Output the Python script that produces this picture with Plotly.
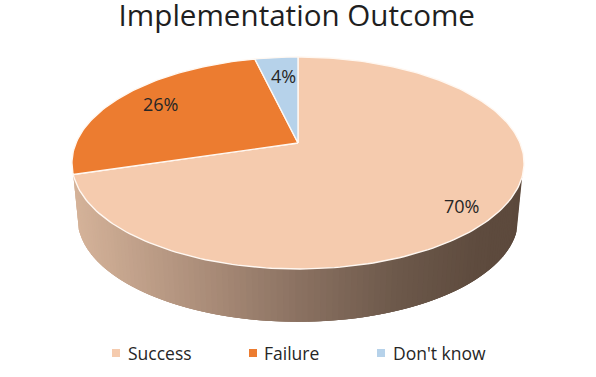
import math
import plotly.graph_objects as go

# --- data ---
categories = ["Success", "Failure", "Don't know"]
values = [70.3, 26.0, 3.7]

# --- style ---
slice_colors = ["#F5CBAE", "#EC7C30", "#B6D2EA"]
side_stops = [(75, (212, 178, 153)), (200, (172, 142, 122)), (300, (138, 113, 97)),
              (400, (108, 88, 74)), (480, (94, 75, 62)), (525, (92, 73, 60))]
FONT = "Open Sans"
TEXT = "#262626"

# --- projection of the tilted disc onto page pixels ---
CX, CY, R, H, K = 298.0, 143.0, 222.0, 102.2, 0.1887
DEPTH_SCALE, BOTTOM_CY = 0.975, 199.0


def top_pt(theta, f=1.0):
    s, c = math.sin(theta), math.cos(theta)
    d = 1 + K * f * c
    return CX + R * f * s / d, CY - H * f * c / d


def bottom_pt(theta):
    s, c = math.sin(theta), math.cos(theta)
    d = 1 + K * c
    return CX + R * DEPTH_SCALE * s / d, BOTTOM_CY - H * DEPTH_SCALE * c / d


def side_color(x):
    for (x0, c0), (x1, c1) in zip(side_stops, side_stops[1:]):
        if x <= x1:
            t = max(0.0, (x - x0) / (x1 - x0))
            return "rgb(%d,%d,%d)" % tuple(round(a + (b - a) * t) for a, b in zip(c0, c1))
    return "rgb(%d,%d,%d)" % side_stops[-1][1]


fig = go.Figure()

# side wall of the first slice: strips overlap their neighbours so no seams show
total = sum(values)
end_first = 2 * math.pi * values[0] / total
start_side = math.radians(108)
N = 110
step = (end_first - start_side) / N
for i in range(N):
    a = start_side + step * i
    angles = [a + step * j for j in range(4) if i + j <= N]
    tops = [top_pt(t) for t in angles]
    bots = [bottom_pt(t) for t in reversed(angles)]
    p = tops + bots + [tops[0]]
    col = side_color((tops[0][0] + tops[1][0]) / 2)
    fig.add_trace(go.Scatter(x=[q[0] for q in p], y=[q[1] for q in p], mode="lines",
                             fill="toself", fillcolor=col, line=dict(width=0),
                             hoverinfo="skip", showlegend=False))

# top face
cum = 0.0
for name, v, col in zip(categories, values, slice_colors):
    a0 = 2 * math.pi * cum / total
    a1 = 2 * math.pi * (cum + v) / total
    cum += v
    n = max(8, int(v * 3))
    pts = [top_pt(a0 + (a1 - a0) * j / n) for j in range(n + 1)]
    xs = [CX] + [q[0] for q in pts] + [CX]
    ys = [CY] + [q[1] for q in pts] + [CY]
    fig.add_trace(go.Scatter(x=xs, y=ys, mode="lines", fill="toself", fillcolor=col,
                             line=dict(color="#FFF8F2", width=1.4),
                             name=name, hoverinfo="skip", showlegend=False))

# legend: square swatches with labels
legend_marker_x = [116, 253, 381]
legend_text_x = [126, 262, 391]
LEGEND_Y = 353
fig.add_trace(go.Scatter(x=legend_marker_x, y=[LEGEND_Y] * 3, mode="markers", hoverinfo="skip",
                         showlegend=False,
                         marker=dict(symbol="square", size=8, color=slice_colors)))
for name, lx in zip(categories, legend_text_x):
    fig.add_annotation(x=lx, y=LEGEND_Y, text=name, showarrow=False, xanchor="left",
                       font=dict(family=FONT, size=17.5, color=TEXT))

# percentage labels
label_pos = [(461, 206), (160, 104), (283, 76)]
for v, (lx, ly) in zip(values, label_pos):
    fig.add_annotation(x=lx, y=ly, text="%d%%" % round(v), showarrow=False,
                       font=dict(family=FONT, size=18, color=TEXT))

fig.update_layout(
    width=596, height=377, margin=dict(l=0, r=0, t=0, b=0),
    paper_bgcolor="white", plot_bgcolor="white", showlegend=False,
    xaxis=dict(range=[0, 596], visible=False, fixedrange=True),
    yaxis=dict(range=[377, 0], visible=False, fixedrange=True),
    title=dict(text="Implementation Outcome", x=0.498, xanchor="center", y=0.958, yanchor="middle",
               font=dict(family=FONT, size=29.6, color="#1F1F1F")),
)
fig.write_html("out.html", config=dict(displayModeBar=False),
               post_script="document.body.style.margin='0';")
